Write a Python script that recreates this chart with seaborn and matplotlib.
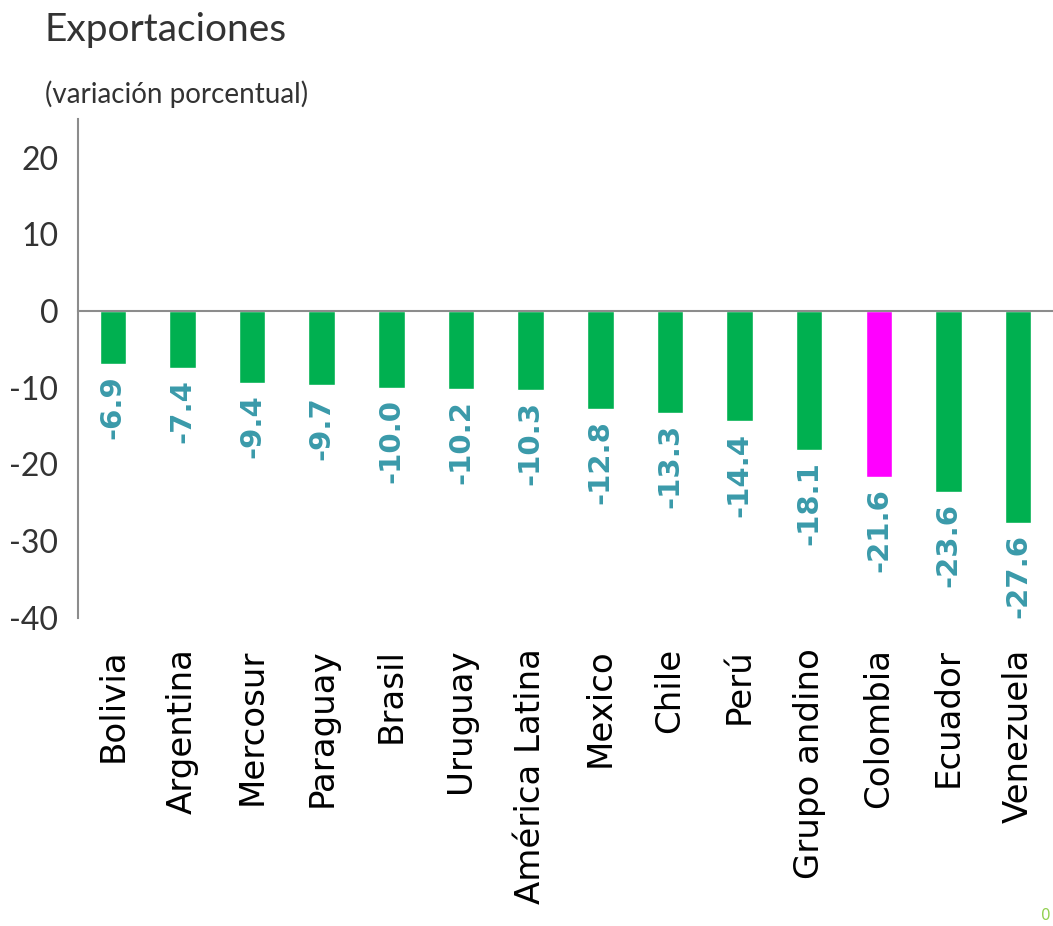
import matplotlib
matplotlib.use('Agg')
import matplotlib.pyplot as plt
import seaborn as sns

# Datos: variación porcentual de las exportaciones
paises = ['Bolivia', 'Argentina', 'Mercosur', 'Paraguay', 'Brasil', 'Uruguay',
          'América Latina', 'Mexico', 'Chile', 'Perú', 'Grupo andino',
          'Colombia', 'Ecuador', 'Venezuela']
valores = [-6.9, -7.4, -9.4, -9.7, -10.0, -10.2, -10.3, -12.8, -13.3, -14.4,
           -18.1, -21.6, -23.6, -27.6]
grupo = ['otro'] * 11 + ['Colombia'] + ['otro'] * 2
colores = {'otro': '#00B050', 'Colombia': '#FF00FF'}
etiquetas_y = [20, 10, 0, -10, -20, -30, -40]

sns.set_style('white')
fuente_estrecha = ['Lato', 'DejaVu Sans']
plt.rcParams['font.family'] = ['DejaVu Sans']

fig = plt.figure(figsize=(10.53, 9.26), dpi=100)
ax = fig.add_axes([0.074, 0.333, 0.926, 0.538])

sns.barplot(x=paises, y=valores, hue=grupo, palette=colores, dodge=False,
            width=0.38, legend=False, saturation=1, ax=ax)

# Etiquetas de datos
for i, v in enumerate(valores):
    ax.annotate(f'{v:.1f}', xy=(i, v), xytext=(0, -8), textcoords='offset points',
                rotation=90, ha='center', va='top', fontsize=21,
                fontweight='bold', color='#3A9AAA', family='DejaVu Sans')

ax.set_xlim(-0.5, len(paises) - 0.5)
ax.set_ylim(-40, 25)
ax.set_yticks(etiquetas_y)
ax.set_yticklabels([str(e) for e in etiquetas_y], family=fuente_estrecha,
                   fontsize=23, color='#333333')
ax.tick_params(axis='y', direction='out', length=7, width=1.2, color='#8c8c8c', pad=7)

# Eje x en el cero con marcas entre categorías
ax.spines['bottom'].set_position(('data', 0))
for s in ['top', 'right']:
    ax.spines[s].set_visible(False)
for s in ['bottom', 'left']:
    ax.spines[s].set_color('#8c8c8c')
    ax.spines[s].set_linewidth(1.5)
ax.set_xticks([i + 0.5 for i in range(len(paises) - 1)], minor=True)
ax.tick_params(axis='x', which='minor', direction='out', length=11, width=1.2,
               color='#8c8c8c')
ax.tick_params(axis='x', which='major', length=0, labelbottom=False)
ax.set_xlabel('')

# Nombres de países debajo del área del gráfico
sec = ax.secondary_xaxis(0)
sec.set_xticks(range(len(paises)))
sec.set_xticklabels(paises, rotation=90, fontsize=24.5, color='#000000',
                    family='DejaVu Sans')
sec.tick_params(length=0, pad=22)
sec.spines['bottom'].set_visible(False)

fig.text(45 / 1053, 1 - 12 / 926, 'Exportaciones', family=fuente_estrecha,
         fontsize=28, color='#333333', ha='left', va='top')
fig.text(45 / 1053, 1 - 80 / 926, '(variación porcentual)', family=fuente_estrecha,
         fontsize=20, color='#333333', ha='left', va='top')
fig.text(1046 / 1053, 3 / 926, '0', fontsize=11, color='#92D050',
         ha='center', va='bottom')

fig.savefig('out.png', dpi=100)
